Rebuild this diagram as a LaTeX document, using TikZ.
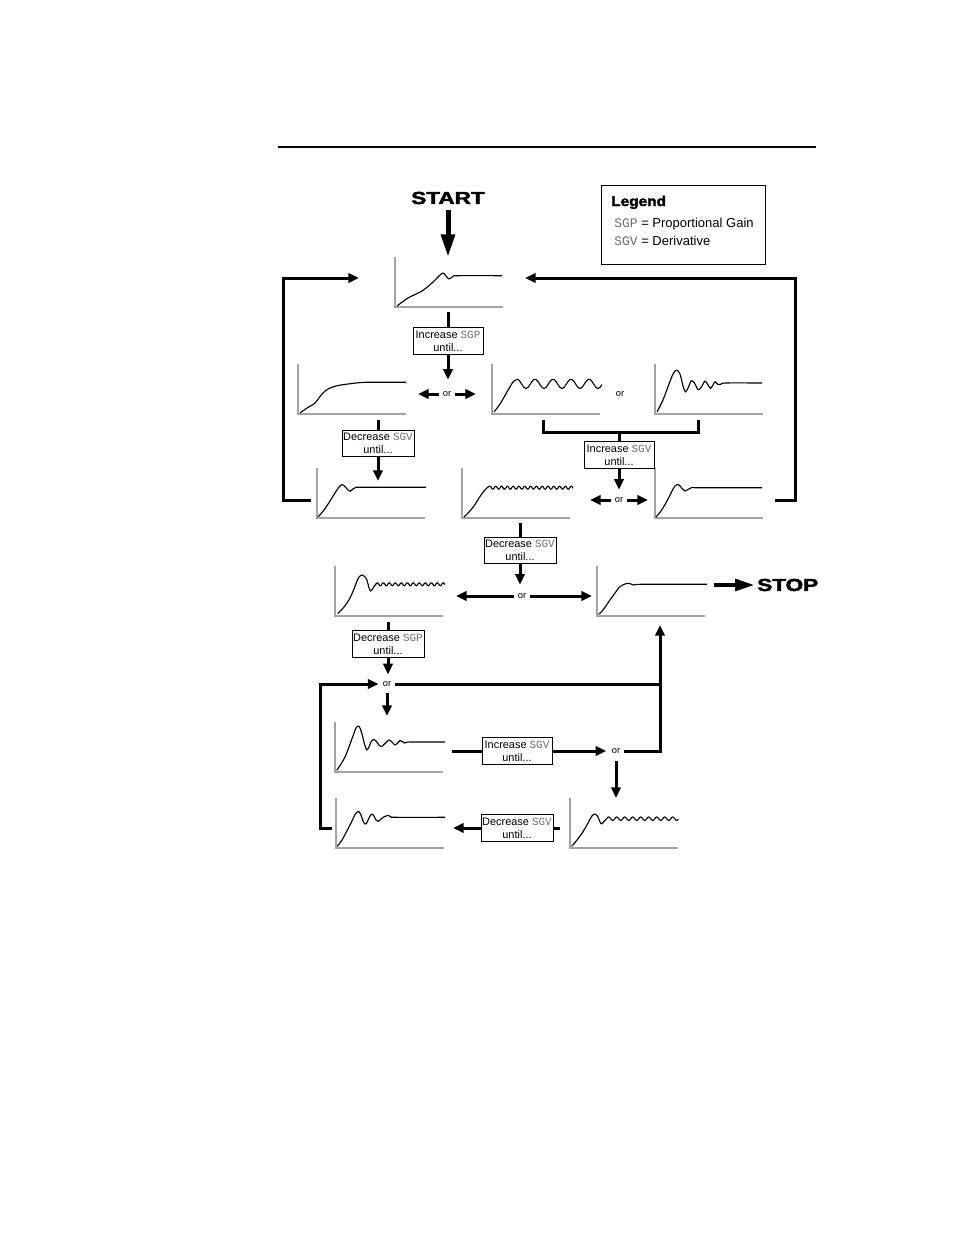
\documentclass[tikz,border=0pt]{standalone}
\usepackage{fontspec}
\setmainfont{Liberation Sans}
\setmonofont{Liberation Mono}
\newfontfamily\heavyfont{Liberation Sans Bold}[FakeBold=2.2]
\usetikzlibrary{arrows.meta}
\definecolor{FigureAxis}{HTML}{A3A3A3}
\definecolor{FigureCode}{HTML}{6E6E6E}
\newcommand{\regname}[1]{{\ttfamily\color{FigureCode}#1}}
\newcommand{\widen}[2][1.3]{\scalebox{#1}[1]{#2}}

\begin{document}
\begin{tikzpicture}[x=0.75pt,y=-0.75pt,
  graph/.style={minimum width=81pt,minimum height=37.5pt,inner sep=0pt,outer sep=0pt},
  axis/.style={FigureAxis,line width=1.5pt},
  curve/.style={line width=0.85pt,line join=round},
  tunebox/.style={draw,line width=0.6pt,fill=white,align=center,inner xsep=1pt,inner ysep=1.5pt,
    minimum width=52.5pt,minimum height=20pt,font=\fontsize{8.2}{9.5}\selectfont},
  ornode/.style={inner xsep=3pt,inner ysep=2pt,text height=4pt,text depth=0pt,font=\fontsize{7}{8}\selectfont},
  flow/.style={line width=2.25pt},
  flowarrow/.style={flow,-{Triangle[length=8pt,width=7pt]}},
  bigword/.style={inner sep=0pt,font=\heavyfont\fontsize{13}{15}\selectfont}]
  \fill[white] (0,0) rectangle (954,1235);
  \useasboundingbox (0,0) rectangle (954,1235);
  \draw[line width=1.5pt] (278,147) -- (816,147);

  % legend
  \node[draw,line width=0.6pt,minimum width=123pt,minimum height=59.25pt,inner sep=0pt] (legend) at (683,224.5) {};
  \node[anchor=base west,inner sep=0pt,font=\heavyfont\fontsize{10.5}{12}\selectfont] (legtitle) at (611,206) {\widen[1.1]{Legend}};
  \node[anchor=base west,inner sep=0pt,font=\fontsize{9.75}{11}\selectfont] (legsgp) at (614,227) {\regname{SGP} = Proportional Gain};
  \node[anchor=base west,inner sep=0pt,font=\fontsize{9.75}{11}\selectfont] (legsgv) at (614,245) {\regname{SGV} = Derivative};

  % response plots
  \node[graph] (g1) at (449,282) {};
  \node[graph] (g2a) at (352,389) {};
  \node[graph] (g2b) at (546,389) {};
  \node[graph] (g2c) at (709,389) {};
  \node[graph] (g3a) at (371,493) {};
  \node[graph] (g3b) at (516,493) {};
  \node[graph] (g3c) at (709,493) {};
  \node[graph] (g4a) at (389,591) {};
  \node[graph] (g4b) at (651,591) {};
  \node[graph] (g5a) at (389,747) {};
  \node[graph] (g5b) at (624,823) {};
  \node[graph] (g6) at (390,823) {};
  \foreach \g in {g1,g2a,g2b,g2c,g3a,g3b,g3c,g4a,g4b,g5a,g5b,g6}
    \draw[axis] (\g.north west) |- (\g.south east);

  \draw[curve,shift={(g1.south west)}] plot[smooth,tension=0.5] coordinates {(2,-1) (13,-9) (27,-16) (37,-24) (44,-31) (48,-34) (51,-31) (54,-28) (58,-30.5) (63,-31.3) (107,-31.3)};
  \draw[curve,shift={(g2a.south west)}] plot[smooth,tension=0.5] coordinates {(2,-1) (9,-6) (17,-11) (24,-20) (30,-25) (38,-28) (50,-30) (68,-31.7) (108,-31.7)};
  \draw[curve,shift={(g2b.south west)}] plot[smooth,tension=0.5] coordinates {(2,-2) (8,-10) (15,-22) (21,-32) (25,-34.7)}
    -- plot[domain=25:110,samples=120] (\x,{-30.2-4.5*cos(20*(\x-25))});
  \draw[curve,shift={(g2c.south west)}] plot[smooth,tension=0.5] coordinates {(2,-2) (8,-14) (14,-30) (18,-40) (21.5,-44) (25,-40) (28,-28) (30.5,-22) (33,-26) (36.5,-33.5) (40,-30) (43.3,-24) (47,-28) (50,-33) (53,-29) (55.5,-25.7) (58,-29) (60,-32.3) (63,-29.5) (66,-29.5) (70,-31) (107,-31)};
  \draw[curve,shift={(g3a.south west)}] plot[smooth,tension=0.5] coordinates {(1,-1) (7,-8) (13,-17) (18,-25) (22,-31) (25,-33.3) (28,-31.5) (31,-28) (33.3,-26.7) (36,-29) (39,-30.7) (45,-30.7) (109,-30.7)};
  \draw[curve,shift={(g3b.south west)}] plot[smooth,tension=0.5] coordinates {(2,-1) (7,-6) (12,-12) (17,-20) (22,-27) (26,-31) (28,-31.8)}
    -- plot[domain=28:111,samples=200] (\x,{-30.3-1.5*cos(62.07*(\x-28))});
  \draw[curve,shift={(g3c.south west)}] plot[smooth,tension=0.5] coordinates {(1,-1) (6,-7) (12,-17) (17,-27) (20,-32) (22.3,-33.7) (25,-32) (28,-28.5) (30,-27) (33,-28.5) (37,-30.5) (42,-30.3) (107,-30.3)};
  \draw[curve,shift={(g4a.south west)}] plot[smooth,tension=0.5] coordinates {(2.7,-2.3) (9,-9) (14.3,-16.7) (19,-27) (22.7,-36.7) (25.5,-40.5) (27.7,-41) (30,-39) (31.7,-36.7) (33.5,-30) (35.3,-25) (37.5,-27) (39.3,-30)}
    -- plot[domain=39.3:110,samples=160] (\x,{-31.7+1.5*cos(60*(\x-39.3))});
  \draw[curve,shift={(g4b.south west)}] plot[smooth,tension=0.5] coordinates {(1.7,-1.7) (6,-6) (10,-11.7) (14,-17.5) (18.3,-23.3) (22,-28.5) (25,-30.7) (28,-32) (31.7,-32.7) (34,-32) (36.7,-31) (40,-31.5) (45,-31.7) (110,-31.7)};
  \draw[curve,shift={(g5a.south west)}] plot[smooth,tension=0.5] coordinates {(1.7,-1.7) (6,-8) (10,-15) (14,-25) (18.3,-37) (21,-44) (23.3,-46) (25,-44) (27,-38) (29.5,-28) (31.7,-22) (34,-25) (36,-30) (38.3,-32.5) (41,-31) (44,-27) (46.7,-25.5) (50,-28.5) (54,-32) (57,-30) (60,-27) (63,-29.5) (65,-31.5) (68,-30) (70,-29) (75,-30) (110,-30)};
  \draw[curve,shift={(g5b.south west)}] plot[smooth,tension=0.5] coordinates {(1.7,-1.7) (7,-8) (13.3,-16.7) (18,-25) (21.7,-31.7) (25,-34) (28,-31) (30,-26) (31.7,-24) (33.5,-26) (36.7,-29.3)}
    -- plot[domain=36.7:108.3,samples=160] (\x,{-29.3-1.7*sin(45*(\x-36.7))});
  \draw[curve,shift={(g6.south west)}] plot[smooth,tension=0.5] coordinates {(1.3,-1.7) (6,-8) (10.7,-16.7) (15,-25) (19,-33.3) (22.3,-36.7) (25,-33) (27,-27) (29,-24) (31,-25.5) (33,-30) (35.7,-34) (38,-32) (40,-28) (42.3,-26.7) (45,-29) (47.3,-30.7) (50,-32) (52.3,-32.7) (55,-31) (60,-30.7) (109,-30.7)};

  % start and stop
  \node[bigword] (start) at (448,198) {\widen{START}};
  \node[bigword,anchor=west] (stop) at (757,585) {\widen{STOP}};
  \draw[line width=3.75pt,-{Triangle[length=17pt,width=10pt]},shorten <=4.5pt] (start.south) -- (start.south |- g1.north);
  \draw[line width=3.5pt,-{Triangle[length=15pt,width=8.5pt]},shorten <=6.75pt,shorten >=1.5pt] (g4b.east |- stop) -- (stop.west);

  % tuning steps
  \node[tunebox] (incP) at (448,341) {Increase \regname{SGP}\\until...};
  \node[tunebox] (decV1) at (378,443.5) {Decrease \regname{SGV}\\until...};
  \node[tunebox] (incV1) at (619,455) {Increase \regname{SGV}\\until...};
  \node[tunebox] (decV2) at (520,550.5) {Decrease \regname{SGV}\\until...};
  \node[tunebox] (decP) at (388,644) {Decrease \regname{SGP}\\until...};
  \node[tunebox] (incV2) at (517,751) {Increase \regname{SGV}\\until...};
  \node[tunebox] (decV3) at (517,828) {Decrease \regname{SGV}\\until...};

  \node[ornode] (orA) at (447,394) {or};
  \node[ornode] (orB) at (620,394) {or};
  \node[ornode] (orC) at (619,500) {or};
  \node[ornode] (orD) at (522,596) {or};
  \node[ornode] (orE) at (387,684) {or};
  \node[ornode] (orF) at (616,751) {or};

  \coordinate (loopLB) at (283,500);
  \coordinate (loopLT) at (283,278);
  \coordinate (loopRB) at (795,500);
  \coordinate (loopRT) at (795,278);
  \coordinate (brL) at (543,420);
  \coordinate (brM) at (619,432);
  \coordinate (brR) at (698,420);
  \coordinate (loopLow) at (320,684);
  \coordinate (joinR) at (660,684);

  % first rows
  \draw[flow,shorten <=3.75pt] (incP.north |- g1.south) -- (incP.north);
  \draw[flowarrow,shorten >=6.5pt] (incP.south) -- (incP.south |- orA.north);
  \draw[flowarrow,shorten >=9pt] (orA.west) -- (g2a.east |- orA);
  \draw[flowarrow,shorten >=12pt] (orA.east) -- (g2b.west |- orA);
  \draw[flow,shorten <=4.5pt] (decV1.north |- g2a.south) -- (decV1.north);
  \draw[flowarrow,shorten >=9pt] (decV1.south) -- (decV1.south |- g3a.center);
  \draw[flow] (brL) |- (brM) -| (brR);
  \draw[flow] (brM) -- (incV1.north);
  \draw[flowarrow,shorten >=3.5pt] (incV1.south) -- (incV1.south |- orC.north);
  \draw[flowarrow,shorten >=15pt] (orC.west) -- (g3b.east |- orC);
  \draw[flowarrow,shorten >=5.25pt] (orC.east) -- (g3c.west |- orC);
  \draw[flowarrow,shorten <=4.5pt,shorten >=27pt] (g3a.west |- loopLB) -- (loopLB) -- (loopLT) -- (g1.west |- loopLT);
  \draw[flowarrow,shorten <=9pt,shorten >=16.5pt] (g3c.east |- loopRB) -- (loopRB) -- (loopRT) -- (g1.east |- loopRT);

  % middle rows
  \draw[flow,shorten <=3.75pt] (decV2.north |- g3b.south) -- (decV2.north);
  \draw[flowarrow,shorten >=4.3pt] (decV2.south) -- (decV2.south |- orD.north);
  \draw[flowarrow,shorten >=9.75pt] (orD.west) -- (g4a.east |- orD);
  \draw[flowarrow,shorten >=3.75pt] (orD.east) -- (g4b.west |- orD);
  \draw[flow,shorten <=4.5pt] (decP.north |- g4a.south) -- (decP.north);
  \draw[flowarrow,shorten >=3pt] (decP.south) -- (decP.south |- orE.north);

  % lower rows
  \draw[flowarrow,shorten <=2.25pt,shorten >=4.5pt] (orE.south) -- (orE.south |- g5a.north);
  \draw[flow] (orE.east) -- (joinR);
  \draw[flow,shorten <=6.75pt] (g5a.east |- incV2) -- (incV2.west);
  \draw[flowarrow,shorten >=1pt] (incV2.east) -- (orF.west);
  \draw[flowarrow,shorten >=6.75pt] (orF.east) -| (joinR |- g4b.south);
  \draw[flowarrow,shorten <=3pt] (orF.south) -- (orF.south |- g5b.north);
  \draw[flow,shorten <=7.5pt] (g5b.west |- decV3) -- (decV3.east);
  \draw[flowarrow,shorten >=6.75pt] (decV3.west) -- (g6.east |- decV3);
  \draw[flowarrow,shorten <=3pt] (g6.west |- decV3) -| (loopLow) -- (orE.west);
\end{tikzpicture}
\end{document}
